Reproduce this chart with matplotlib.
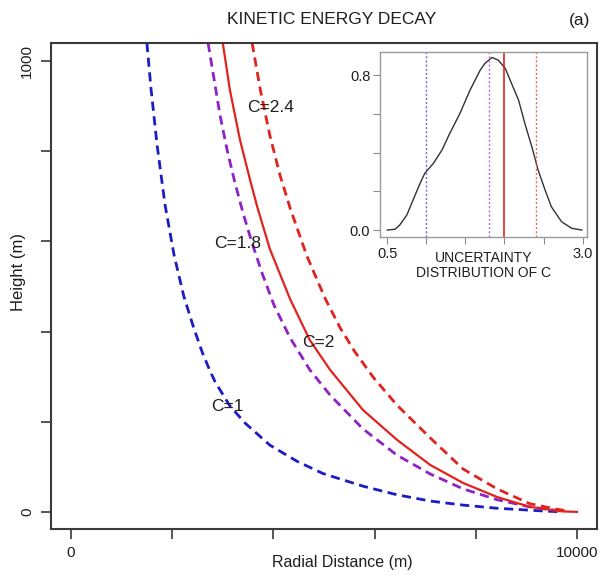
import matplotlib
matplotlib.use("Agg")
import matplotlib.pyplot as plt

plt.rcParams["font.family"] = ["Liberation Sans", "DejaVu Sans"]

# ── data ────────────────────────────────────────────────────────────────────
blue_x = [1500, 1580, 1700, 1860, 2040, 2230, 2420, 2600, 2750, 2850, 3140,
          3440, 3930, 4470, 4980, 5770, 6440, 7100, 7750, 8420, 9330, 9700]
blue_y = [1040, 940, 815, 680, 568, 478, 410, 352, 312, 288, 235,
          197, 148, 112, 85, 57, 38, 24, 15, 8, 2, 0]

purple_x = [2710, 2830, 2945, 3085, 3240, 3400, 3580, 3775, 4010, 4330,
            4720, 5120, 5770, 6440, 7100, 7750, 8420, 9070, 9660]
purple_y = [1040, 958, 880, 803, 730, 663, 596, 530, 459, 386,
            315, 259, 184, 126, 84, 51, 27, 11, 2]

red_x = [3000, 3140, 3340, 3540, 3680, 3930, 4330, 4720, 5120, 5770,
         6440, 7100, 7750, 8420, 9070, 9720, 10000]
red_y = [1040, 936, 825, 736, 677, 583, 472, 381, 315, 226,
         160, 104, 64, 33, 11, 1, 0]

reddash_x = [3580, 3735, 3930, 4130, 4330, 4660, 5020, 5320, 5610, 5970,
             6440, 7100, 7750, 8420, 9070, 9600, 9860]
reddash_y = [1040, 940, 835, 747, 674, 568, 474, 408, 355, 299,
             237, 164, 95, 51, 18, 6, 1]

curve_labels = ["C=2.4", "C=1.8", "C=2", "C=1"]
label_x = [3950, 3300, 4880, 3100]
label_y = [896, 596, 375, 233]

# inset: density of C
dens_x = [0.50, 0.60, 0.66, 0.75, 0.83, 0.92, 0.98, 1.09, 1.20, 1.30, 1.43, 1.56,
          1.69, 1.75, 1.84, 1.92, 2.01, 2.09, 2.18, 2.26, 2.35, 2.43, 2.52,
          2.60, 2.73, 2.86, 2.99]
dens_y = [0.0, 0.004, 0.026, 0.077, 0.155, 0.241, 0.293, 0.344, 0.413, 0.499,
          0.602, 0.723, 0.826, 0.860, 0.891, 0.877, 0.835, 0.757, 0.671, 0.551,
          0.430, 0.310, 0.206, 0.120, 0.043, 0.009, 0.0]
c_marks = [1.0, 1.8, 2.0, 2.4]

BLUE = "#1c1cc4"
PURPLE = "#8f22c6"
RED = "#e0231f"
SPINE = "#3a3a3a"
TXT = "#1e1e1e"

fig = plt.figure(figsize=(5.99, 5.75), dpi=100)
ax = fig.add_axes([51 / 599, 1 - 529 / 575, 546 / 599, 486 / 575])

ax.plot(blue_x, blue_y, color=BLUE, lw=2.0, dashes=(3.3, 2.0))
ax.plot(purple_x, purple_y, color=PURPLE, lw=2.0, dashes=(3.3, 2.0))
ax.plot(reddash_x, reddash_y, color=RED, lw=2.0, dashes=(3.3, 2.0))
ax.plot(red_x, red_y, color=RED, lw=1.6)

for t, x, y in zip(curve_labels, label_x, label_y):
    ax.text(x, y, t, ha="center", va="center", fontsize=12.5, color=TXT)

ax.set_xlim(-395, 10395)
ax.set_ylim(-38, 1040)
ax.set_xticks(range(0, 10001, 2000))
ax.set_xticklabels(["0", "", "", "", "", "10000"])
ax.set_yticks(range(0, 1001, 200))
ax.set_yticklabels(["0", "", "", "", "", "1000"], rotation=90, va="center")
ax.tick_params(direction="out", length=7, width=1.2, color=SPINE,
               labelsize=11, labelcolor=TXT, pad=5)
for s in ax.spines.values():
    s.set_color(SPINE)
    s.set_linewidth(1.5)

ax.set_xlabel("Radial Distance (m)", fontsize=11.5, color=TXT, va="center")
ax.xaxis.set_label_coords((342 - 51) / 546, -(563 - 529) / 486)
ax.set_ylabel("Height (m)", fontsize=12, color=TXT, va="center")
ax.yaxis.set_label_coords(-(51 - 18.5) / 546, (529 - 272) / 486)

fig.text(332 / 599, 1 - 20 / 575, "KINETIC ENERGY DECAY", ha="center",
         va="center", fontsize=12.5, color=TXT)
fig.text(580 / 599, 1 - 20 / 575, "(a)", ha="center", va="center",
         fontsize=12.5, color=TXT)

# ── inset ────────────────────────────────────────────────────────────────────
ins = fig.add_axes([380 / 599, 1 - 237 / 575, 207 / 599, 185 / 575])
ins.plot(dens_x, dens_y, color="#333333", lw=1.0)
ins.axvline(c_marks[0], color="#6b6bd6", lw=1.0, ls=(0, (1.5, 1.5)))
ins.axvline(c_marks[1], color="#b36ad6", lw=1.0, ls=(0, (1.5, 1.5)))
ins.axvline(c_marks[2], color=RED, lw=1.2)
ins.axvline(c_marks[3], color="#e36a6a", lw=1.0, ls=(0, (1.5, 1.5)))

ins.set_xlim(0.407, 3.056)
ins.set_ylim(-0.036, 0.919)
ins.set_xticks([0.5, 1.0, 1.5, 2.0, 2.5, 3.0])
ins.set_xticklabels(["0.5", "", "", "", "", "3.0"])
ins.set_yticks([0.0, 0.2, 0.4, 0.6, 0.8])
ins.set_yticklabels(["0.0", "", "", "", "0.8"])
ins.tick_params(direction="out", length=5, width=0.8, color="#8a8a8a",
                labelsize=10.5, labelcolor=TXT, pad=2)
for s in ins.spines.values():
    s.set_color("#9a9a9a")
    s.set_linewidth(1.0)
ins.set_xlabel("UNCERTAINTY\nDISTRIBUTION OF C", fontsize=10, color=TXT,
               linespacing=1.05, labelpad=-7)

fig.savefig("out.png", dpi=100)
